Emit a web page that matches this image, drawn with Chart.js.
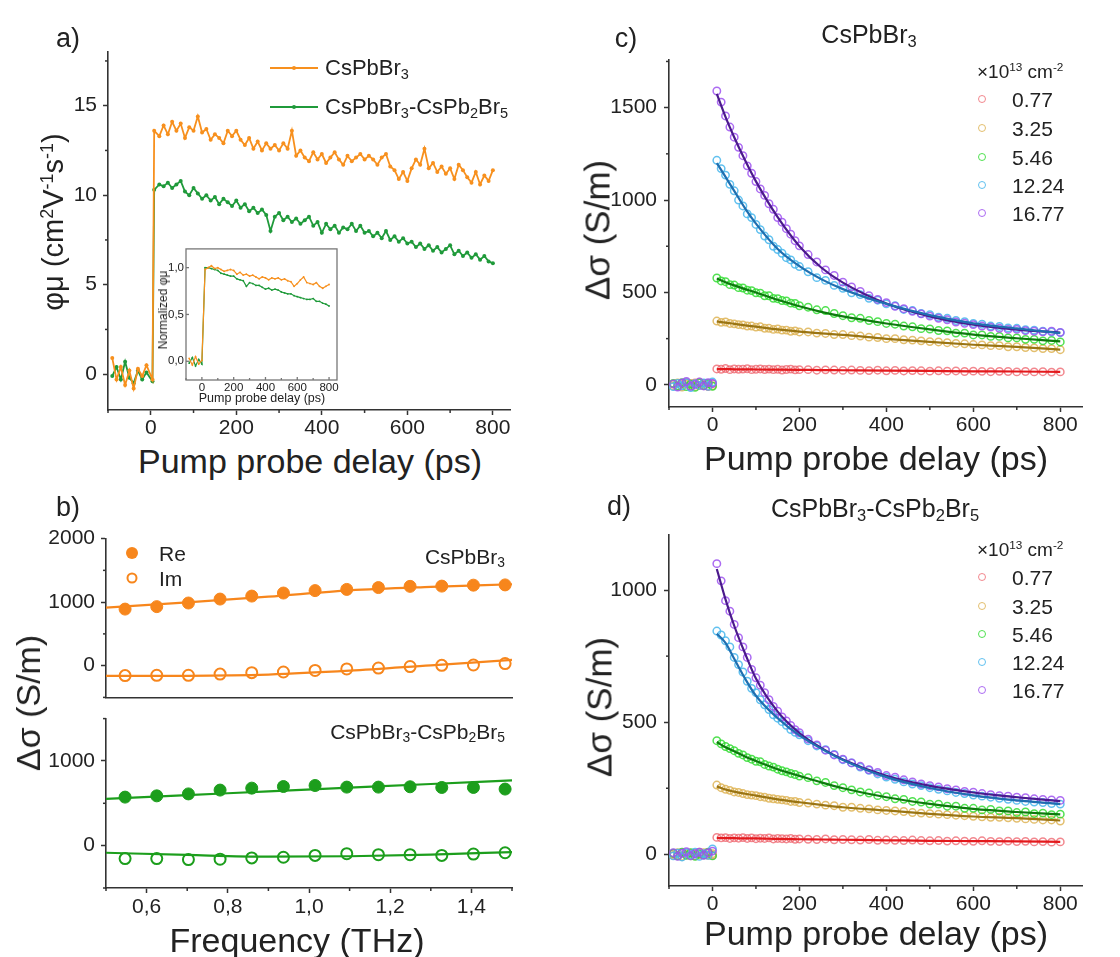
<!DOCTYPE html>
<html>
<head>
<meta charset="utf-8">
<script src="https://cdn.jsdelivr.net/npm/chart.js@4.4.1/dist/chart.umd.min.js"></script>
<style>
  body { margin: 0; background: #fff; }
  #fig { position: relative; width: 1120px; height: 957px; background: #fff; overflow: hidden; font-family: 'Liberation Sans', Arial, sans-serif; color: #222; }
  canvas { position: absolute; }
  .tx { position: absolute; white-space: nowrap; line-height: 1; }
  .tx sub { font-size: 0.66em; vertical-align: -0.28em; line-height: 0; }
  .tx sup { font-size: 0.62em; vertical-align: 0.55em; line-height: 0; }
  .mk { position: absolute; border-radius: 50%; box-sizing: border-box; transform: translate(-50%, -50%); }
</style>
</head>
<body>
<div id="fig"></div>
<script>
// ---------- datos panel a (movilidad) ----------
const delayA = [-90,-80,-70,-60,-50,-40,-30,-20,-10,4,8,20,30,40,50,60,70,80,90,100,110,120,130,140,150,160,170,180,190,200,210,220,230,240,250,260,270,280,290,300,310,320,330,340,350,360,370,380,390,400,410,420,430,440,450,460,470,480,490,500,510,520,530,540,550,560,570,580,590,600,610,620,630,640,650,660,670,680,690,700,710,720,730,740,750,760,770,780,790,800];
const mobOrange = [0.9,-0.3,0.4,-0.6,0.2,-0.8,0.3,-0.1,0.5,-0.3,
  13.6,13.3,13.9,13.4,14.1,13.6,14.0,13.2,13.8,13.6,
  14.4,13.5,13.7,13.1,13.4,13.2,12.9,13.6,13.3,13.6,
  13.1,12.8,13.2,12.6,13.0,12.5,12.9,12.6,12.8,12.5,
  12.9,12.6,13.6,12.2,12.5,12.1,11.9,12.4,12.0,12.3,
  11.8,12.1,12.4,12.0,11.7,12.2,11.9,12.1,12.3,12.0,
  12.2,12.0,11.7,12.1,12.3,11.6,11.4,10.9,11.3,10.8,
  11.5,12.0,11.7,12.6,11.5,11.8,11.3,11.6,11.2,11.5,
  10.9,11.7,11.4,11.0,10.7,11.3,10.6,11.1,10.8,11.4];
const mobGreen = [-0.1,0.4,-0.3,0.7,-0.2,-0.5,0.2,-0.3,0.1,-0.4,
  10.3,10.6,10.5,10.7,10.4,10.6,10.8,10.2,10.0,10.4,
  10.1,9.8,10.0,9.7,9.9,9.5,9.8,9.6,9.4,9.7,
  9.3,9.5,9.1,9.3,9.0,9.2,8.9,8.0,8.8,9.0,
  8.6,8.8,8.5,8.7,8.4,8.6,8.8,8.3,8.5,7.9,
  8.4,8.1,8.3,7.9,8.2,8.1,8.4,8.0,8.3,7.9,
  8.0,7.7,7.9,7.6,8.0,7.5,7.7,7.4,7.6,7.3,
  7.4,7.1,7.3,7.0,7.2,6.9,7.1,6.8,7.0,7.2,
  6.7,6.9,6.6,6.8,6.5,6.7,6.4,6.6,6.3,6.2];
const ticksAx = [0,200,400,600,800];
const ticksAy = [0,5,10,15];

// inset normalizado
const delayIns = [-80,-60,-40,-20,0,20,40,60,80,100,120,140,160,180,200,220,240,260,280,300,320,340,360,380,400,420,440,460,480,500,520,540,560,580,600,620,640,660,680,700,720,740,760,780,800];
const normOrange = [0.03,-0.04,0.05,-0.03,0.01,
  0.98,1.00,1.02,0.99,1.00,0.98,0.96,0.97,0.98,0.97,
  0.93,0.95,0.92,0.93,0.91,0.92,0.90,0.88,0.90,0.89,
  0.87,0.89,0.88,0.89,0.87,0.88,0.86,0.85,0.80,0.83,
  0.87,0.90,0.84,0.83,0.82,0.84,0.80,0.78,0.80,0.82];
const normGreen = [-0.02,0.04,-0.05,0.02,-0.03,
  1.00,1.00,0.99,0.98,0.97,0.94,0.93,0.92,0.91,0.91,
  0.88,0.87,0.86,0.80,0.84,0.83,0.81,0.81,0.79,0.77,
  0.78,0.76,0.77,0.76,0.74,0.73,0.72,0.72,0.70,0.69,
  0.68,0.67,0.66,0.66,0.67,0.64,0.64,0.62,0.61,0.59];
const ticksInsX = [0,200,400,600,800];
const ticksInsY = [0,0.5,1];

// ---------- datos panel b (espectros) ----------
const freqB = [0.547,0.625,0.703,0.781,0.859,0.937,1.015,1.093,1.171,1.249,1.327,1.405,1.483];
const reTop = [890,929,986,1048,1095,1143,1181,1200,1229,1248,1252,1267,1271];
const imTop = [-157,-152,-152,-133,-110,-100,-76,-52,-38,-14,5,10,33];
const reBot = [573,588,611,656,679,698,710,691,691,695,687,687,668];
const imBot = [-153,-153,-164,-160,-145,-137,-115,-95,-107,-107,-115,-99,-84];
const fitFreq = [0.5,0.7,0.9,1.1,1.3,1.5];
const reTopFit = [914,995,1085,1185,1240,1281];
const imTopFit = [-162,-160,-140,-80,5,90];
const reBotFit = [553,597,640,684,728,771];
const imBotFit = [-84,-110,-130,-125,-105,-76];
const ticksBx = [0.6,0.8,1.0,1.2,1.4];
const ticksBtop = [0,1000,2000];
const ticksBbot = [0,1000];

// ---------- datos paneles c y d (decaimientos) ----------
const densidades = ['0.77','3.25','5.46','12.24','16.77'];
const delayC = [-90,-80,-70,-60,-50,-40,-30,-20,-10,0,10,20,30,40,50,60,70,80,90,100,110,120,130,140,150,160,170,180,190,200,220,240,260,280,300,320,340,360,380,400,420,440,460,480,500,520,540,560,580,600,620,640,660,680,700,720,740,760,780,800];
const redC = [4,-8,6,12,-6,10,-4,8,-10,6, 86,84,88,82,86,84,85,87,82,84,86,83,85,82,84,80,83,85,81,82, 82,79,81,80,78,80,78,77,79,76,78,75,77,76,74,76,74,75,72,74,73,71,73,72,70,72,70,71,69,70];
const ochreC = [-6,10,-12,4,8,-10,14,-2,6,-5, 345,338,340,332,330,326,324,318,318,312,314,306,306,300,302,296,296,290,292,286, 286,280,278,272,272,266,264,258,256,250,250,244,242,238,234,232,228,224,222,218,216,212,212,206,206,202,200,196,196,190];
const greenC = [8,-6,12,-10,4,-14,10,-4,6,-8, 578,562,558,542,540,526,524,512,510,498,496,482,482,468,466,456,454,442,440,428, 420,406,402,386,374,363,360,348,342,332,328,318,314,304,302,294,292,280,280,270,270,262,262,254,254,246,246,238,240,232];
const cyanC = [-10,8,-5,12,-15,6,-3,10,-8,15, 1215,1170,1135,1085,1050,1000,968,925,905,868,840,805,785,750,732,712,688,676,652,640, 612,580,565,538,522,498,488,468,458,438,428,408,402,386,380,366,360,348,342,332,328,318,316,308,306,298,296,290,286,282];
const purpleC = [5,-12,10,18,-8,2,15,-6,12,8, 1590,1530,1455,1395,1340,1285,1240,1185,1145,1100,1060,1025,980,950,905,880,845,815,780,752, 705,665,622,592,556,530,505,482,462,445,425,412,398,384,372,360,352,340,333,326,318,312,306,300,300,293,290,287,290,284];
const redD = [2,-4,6,-2,4,-6,8,-2,4,-4, 64,62,63,60,62,61,63,60,62,59,61,60,62,58,60,59,58,60,57,58, 57,56,58,55,56,55,54,56,53,54,53,52,54,52,51,52,50,51,50,49,51,49,48,50,48,49,47,48,46,47];
const ochreD = [-4,6,-8,2,-6,4,-2,6,-4,2, 262,252,246,242,236,234,230,226,224,222,218,216,212,210,208,206,204,200,200,196, 194,190,186,184,178,178,174,172,168,166,164,162,158,156,154,152,150,148,146,144,142,140,140,138,136,134,132,130,130,126];
const greenD = [4,-6,8,-4,6,-8,2,-2,8,-6, 430,418,408,400,392,382,376,366,360,352,350,340,334,330,322,316,312,306,302,296, 290,278,272,260,252,244,236,232,222,218,210,208,200,198,190,190,182,182,174,174,168,170,164,164,158,160,154,156,150,152];
const cyanD = [-6,4,-10,6,-2,8,-8,2,-4,20, 845,830,808,785,745,718,690,655,628,612,585,566,548,528,515,502,488,472,462,452, 430,410,396,378,358,346,330,318,304,292,284,274,266,260,252,246,240,234,230,224,220,216,212,208,204,200,198,196,192,190];
const purpleD = [6,-8,4,10,-6,2,8,-4,6,12, 1100,1035,960,920,870,820,785,745,700,668,640,612,585,560,542,520,505,488,472,460, 436,414,394,376,360,346,333,320,310,298,292,282,274,266,260,255,248,244,238,235,230,226,222,220,216,214,210,208,206,204];
// ajustes
const fitX = [10,30,50,75,100,150,200,250,300,400,500,600,700,800];
const redFitC = [85,85,84,84,83,82,81,80,79,77,75,73,72,70];
const ochreFitC = [343,337,330,322,315,300,288,278,270,249,232,217,205,191];
const greenFitC = [575,555,538,518,500,460,425,395,370,332,300,272,252,235];
const cyanFitC = [1200,1125,1050,955,872,735,642,572,518,438,377,333,305,280];
const purpleFitC = [1575,1450,1340,1215,1101,907,750,635,553,440,370,325,298,283];
const redFitD = [62,61,61,60,60,58,57,56,55,53,51,50,49,47];
const ochreFitD = [257,245,237,229,222,208,197,187,178,166,153,143,137,128];
const greenFitD = [425,405,390,370,353,322,297,272,250,216,191,172,160,151];
const cyanFitD = [835,800,740,665,600,515,450,400,357,292,251,223,204,190];
const purpleFitD = [1080,965,865,760,665,540,459,403,359,297,259,234,216,201];
const ticksCDx = [0,200,400,600,800];
const ticksCy = [0,500,1000,1500];
const ticksDy = [0,500,1000];

// colores
const colOrange = '#f7901e';
const colGreenA = '#1f9a3a';
const colOrangeB = '#f7861c';
const colGreenB = '#1c9e1c';
const colPuntos = ['rgba(238,96,106,0.75)','rgba(222,180,86,0.85)','rgba(52,220,52,0.85)','rgba(70,182,236,0.85)','rgba(158,82,240,0.85)'];
const colAjuste = ['#e3191c','#9a7412','#0d7a0d','#1f6fb0','#4b1a8c'];
const AXIS = '#333';

Chart.defaults.font.family = "'Liberation Sans', Arial, sans-serif";
Chart.defaults.color = '#222';
Chart.defaults.animation = false;

// marcas menores y marco (el inset)
const extraTicks = {
  id: 'extraTicks',
  afterDraw(chart, args, o) {
    if (!o || !o.enabled) return;
    const ctx = chart.ctx, a = chart.chartArea;
    ctx.save();
    ctx.strokeStyle = o.color || AXIS;
    ctx.lineWidth = o.width || 1.5;
    if (o.frame) ctx.strokeRect(a.left, a.top, a.right - a.left, a.bottom - a.top);
    ['x', 'y'].forEach(k => {
      const s = chart.scales[k];
      const majors = s.ticks.map(t => t.value);
      const marks = [];
      if (o.inward) majors.forEach(v => marks.push([v, o.majorLen || 4]));
      const step = o[k];
      if (step) {
        for (let i = Math.ceil(s.min / step - 1e-9); i * step <= s.max + 1e-9; i++) {
          const v = i * step;
          if (!majors.some(m => Math.abs(m - v) < step / 100)) marks.push([v, o.minorLen || 3]);
        }
      }
      const dir = o.inward ? -1 : 1;
      marks.forEach(([v, len]) => {
        const p = s.getPixelForValue(v);
        ctx.beginPath();
        if (k === 'x') { ctx.moveTo(p, a.bottom); ctx.lineTo(p, a.bottom + dir * len); }
        else { ctx.moveTo(a.left, p); ctx.lineTo(a.left - dir * len, p); }
        ctx.stroke();
      });
    });
    ctx.restore();
  }
};
Chart.register(extraTicks);

const fig = document.getElementById('fig');
const pts = (xs, ys) => xs.map((x, i) => ({ x: x, y: ys[i] }));
const coma = v => v.toFixed(1).replace('.', ',');

function escala(o, esX, tam) {
  return {
    type: 'linear', min: o.min, max: o.max,
    afterBuildTicks: s => { s.ticks = o.ticks.map(v => ({ value: v })); },
    afterFit: s => { if (esX) s.height = tam; else s.width = tam; },
    grid: { display: true, drawOnChartArea: false, drawTicks: o.tickLen > 0, tickLength: o.tickLen || 0, tickColor: AXIS, tickWidth: 1.5 },
    border: { display: o.border !== false, color: AXIS, width: 1.6 },
    ticks: { display: o.labels !== false, autoSkip: false, maxRotation: 0, padding: o.pad || 0,
      color: '#222', font: { size: o.font || 21 }, callback: o.fmt || (v => v) }
  };
}

// caja = zona del canvas, area = zona de dibujo
function panel(caja, area, datasets, sx, sy, extra) {
  const cv = document.createElement('canvas');
  const w = caja[2] - caja[0], h = caja[3] - caja[1];
  cv.width = w; cv.height = h;
  Object.assign(cv.style, { left: caja[0] + 'px', top: caja[1] + 'px', width: w + 'px', height: h + 'px' });
  fig.appendChild(cv);
  return new Chart(cv, {
    type: 'scatter',
    data: { datasets: datasets },
    options: {
      responsive: false, animation: false,
      layout: { padding: { left: 0, top: area[1] - caja[1], right: caja[2] - area[2], bottom: 0 } },
      plugins: { legend: { display: false }, tooltip: { enabled: false }, extraTicks: extra },
      scales: { x: escala(sx, true, caja[3] - area[3]), y: escala(sy, false, area[0] - caja[0]) }
    }
  });
}

function txt(html, x, y, size, opt) {
  opt = opt || {};
  const d = document.createElement('div');
  d.className = 'tx';
  d.innerHTML = html;
  d.style.left = x + 'px';
  d.style.top = y + 'px';
  d.style.fontSize = size + 'px';
  const ax = opt.align === 'left' ? '0' : opt.align === 'right' ? '-100%' : '-50%';
  d.style.transform = 'translate(' + ax + ', -50%)' + (opt.rot ? ' rotate(-90deg)' : '');
  fig.appendChild(d);
}
function marca(x, y, d, estilo) {
  const m = document.createElement('div');
  m.className = 'mk';
  Object.assign(m.style, { left: x + 'px', top: y + 'px', width: d + 'px', height: d + 'px' }, estilo);
  fig.appendChild(m);
}

// ---------- panel a ----------
const lineaA = (ys, c) => ({ data: pts(delayA, ys), showLine: true, borderColor: c, borderWidth: 1.8,
  pointRadius: 2, pointBackgroundColor: c, pointBorderWidth: 0 });
panel([40, 30, 540, 440], [108, 52, 510, 410],
  [lineaA(mobOrange, colOrange), lineaA(mobGreen, colGreenA)],
  { min: -100, max: 840, ticks: ticksAx, tickLen: 5, pad: 1 },
  { min: -2, max: 18, ticks: ticksAy, tickLen: 5, pad: 6 },
  { enabled: true, x: 100, y: 2.5 });

// inset
const lineaIns = (ys, c) => ({ data: pts(delayIns, ys), showLine: true, borderColor: c, borderWidth: 1.2,
  pointRadius: 0.9, pointBackgroundColor: c, pointBorderWidth: 0 });
panel([150, 240, 350, 400], [186, 247, 337, 380],
  [lineaIns(normOrange, colOrange), lineaIns(normGreen, colGreenA)],
  { min: -100, max: 850, ticks: ticksInsX, tickLen: 0, pad: 1, font: 11.5, border: false },
  { min: -0.2, max: 1.2, ticks: ticksInsY, tickLen: 0, pad: 2, font: 11.5, border: false, fmt: coma },
  { enabled: true, frame: true, inward: true, majorLen: 3, minorLen: 2, x: 100, color: '#777', width: 1.3 });

// ---------- panel b ----------
const puntosB = (ys, c, lleno) => ({ data: pts(freqB, ys), pointRadius: lleno ? 6 : 5.5, borderWidth: lleno ? 1 : 2,
  borderColor: c, backgroundColor: lleno ? c : 'rgba(0,0,0,0)', order: 1 });
const ajusteB = (ys, c) => ({ data: pts(fitFreq, ys), showLine: true, borderColor: c, borderWidth: 2.2,
  pointRadius: 0, cubicInterpolationMode: 'monotone', order: 0 });
panel([40, 520, 540, 716], [106, 537, 512, 712],
  [ajusteB(reTopFit, colOrangeB), ajusteB(imTopFit, colOrangeB), puntosB(reTop, colOrangeB, true), puntosB(imTop, colOrangeB, false)],
  { min: 0.5, max: 1.5, ticks: ticksBx, tickLen: 0, labels: false },
  { min: -500, max: 2000, ticks: ticksBtop, tickLen: 5, pad: 6 },
  { enabled: true, y: 500 });
panel([40, 700, 540, 957], [106, 712, 512, 888],
  [ajusteB(reBotFit, colGreenB), ajusteB(imBotFit, colGreenB), puntosB(reBot, colGreenB, true), puntosB(imBot, colGreenB, false)],
  { min: 0.5, max: 1.5, ticks: ticksBx, tickLen: 5, pad: 2, fmt: coma },
  { min: -500, max: 1500, ticks: ticksBbot, tickLen: 5, pad: 6 },
  { enabled: true, x: 0.1, y: 500 });

// ---------- paneles c y d ----------
function decaimientos(puntos, ajustes) {
  const ds = [];
  ajustes.forEach((f, i) => ds.push({ data: pts(fitX, f), showLine: true, borderColor: colAjuste[i], borderWidth: 2.2,
    pointRadius: 0, cubicInterpolationMode: 'monotone', order: 0 }));
  puntos.forEach((s, i) => ds.push({ data: pts(delayC, s), pointRadius: 3.7, borderWidth: 1.5,
    borderColor: colPuntos[i], backgroundColor: 'rgba(0,0,0,0)', order: 5 - i }));
  return ds;
}
panel([600, 40, 1110, 440], [669, 52, 1082, 407],
  decaimientos([redC, ochreC, greenC, cyanC, purpleC], [redFitC, ochreFitC, greenFitC, cyanFitC, purpleFitC]),
  { min: -100, max: 850, ticks: ticksCDx, tickLen: 5, pad: 1 },
  { min: -120, max: 1760, ticks: ticksCy, tickLen: 5, pad: 7 },
  { enabled: true, x: 100, y: 250 });
panel([600, 515, 1110, 920], [669, 529, 1082, 886],
  decaimientos([redD, ochreD, greenD, cyanD, purpleD], [redFitD, ochreFitD, greenFitD, cyanFitD, purpleFitD]),
  { min: -100, max: 850, ticks: ticksCDx, tickLen: 5, pad: 1 },
  { min: -120, max: 1210, ticks: ticksDy, tickLen: 5, pad: 7 },
  { enabled: true, x: 100, y: 250 });

// ---------- textos ----------
txt('a)', 68, 38, 27);
txt('b)', 68, 507, 27);
txt('c)', 626, 38, 27);
txt('d)', 619, 506, 27);

txt('φμ (cm<sup>2</sup>V<sup>-1</sup>s<sup>-1</sup>)', 53, 222, 29, { rot: true });
txt('Pump probe delay (ps)', 310, 461, 34);
txt('Normalized φμ', 163, 310, 12, { rot: true });
txt('Pump probe delay (ps)', 262, 398, 12.5);

// leyenda a
[[68, colOrange, 'CsPbBr<sub>3</sub>'], [107, colGreenA, 'CsPbBr<sub>3</sub>-CsPb<sub>2</sub>Br<sub>5</sub>']].forEach(([y, c, t]) => {
  const l = document.createElement('div');
  Object.assign(l.style, { position: 'absolute', left: '270px', top: (y - 1) + 'px', width: '48px', height: '2px', background: c });
  fig.appendChild(l);
  marca(294, y, 4, { background: c });
  txt(t, 325, y, 22, { align: 'left' });
});

// panel b textos
txt('Δσ (S/m)', 28, 703, 34, { rot: true });
txt('Frequency (THz)', 297, 940, 34);
txt('CsPbBr<sub>3</sub>', 505, 556, 21, { align: 'right' });
txt('CsPbBr<sub>3</sub>-CsPb<sub>2</sub>Br<sub>5</sub>', 505, 731, 21, { align: 'right' });
marca(132, 553, 12, { background: colOrangeB });
marca(132, 578, 11, { border: '2px solid ' + colOrangeB });
txt('Re', 159, 553, 21, { align: 'left' });
txt('Im', 159, 578, 21, { align: 'left' });

// paneles c y d textos
txt('CsPbBr<sub>3</sub>', 869, 34, 25);
txt('CsPbBr<sub>3</sub>-CsPb<sub>2</sub>Br<sub>5</sub>', 875, 508, 25);
txt('Δσ (S/m)', 597, 230, 35, { rot: true });
txt('Δσ (S/m)', 599, 707, 35, { rot: true });
txt('Pump probe delay (ps)', 876, 458, 34);
txt('Pump probe delay (ps)', 876, 933, 34);

function leyendaDens(yHead, ys) {
  txt('×10<sup>13</sup> cm<sup>-2</sup>', 977, yHead, 19, { align: 'left' });
  densidades.forEach((d, i) => {
    marca(982, ys[i], 8, { border: '1.4px solid ' + colPuntos[i] });
    txt(d, 1012, ys[i], 21, { align: 'left' });
  });
}
leyendaDens(71, [99, 128, 157, 185, 213]);
leyendaDens(549, [577, 606, 634, 662, 690]);
</script>
</body>
</html>
